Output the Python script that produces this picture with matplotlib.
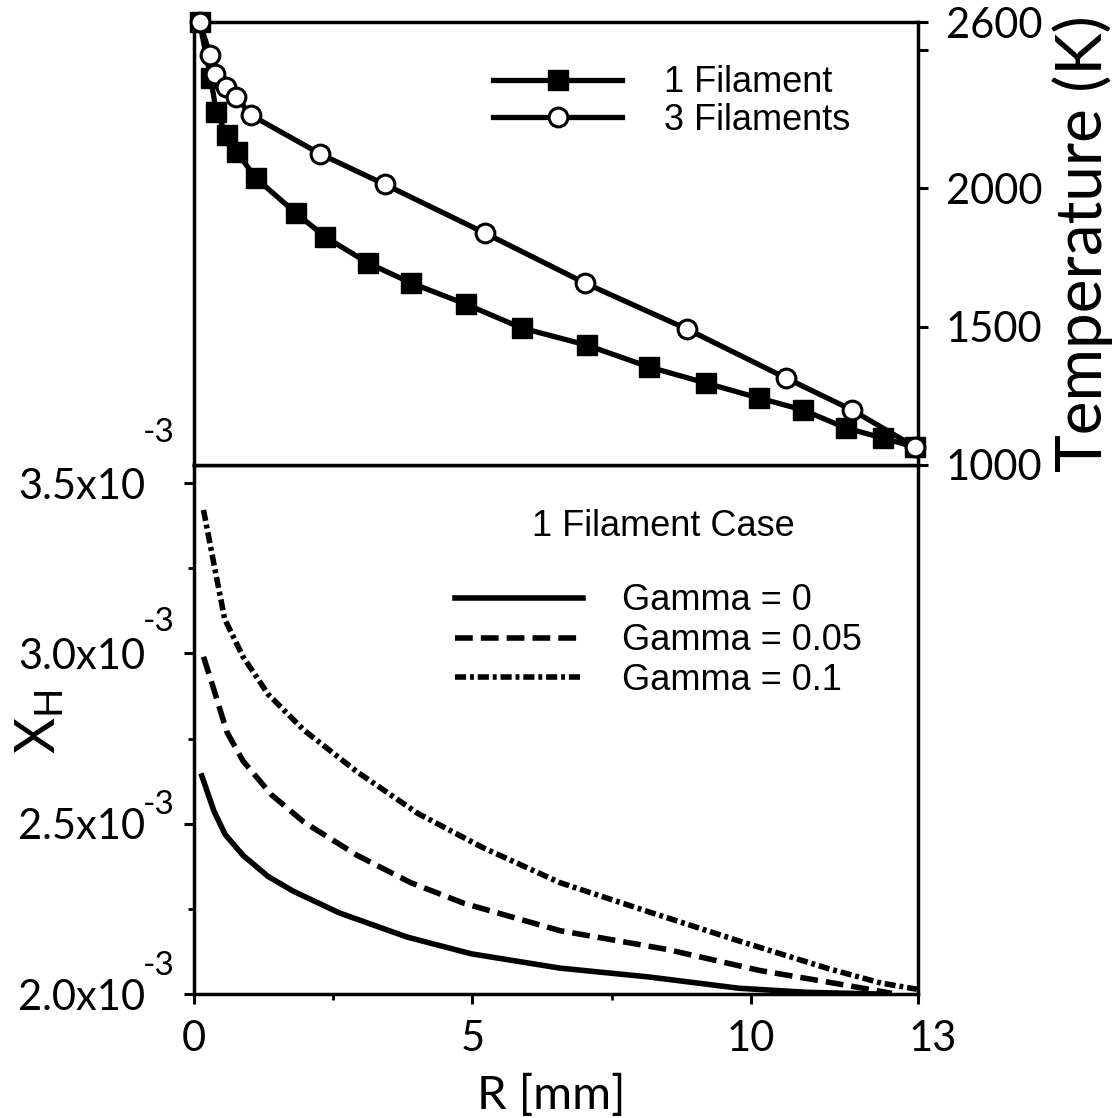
import matplotlib

matplotlib.use("Agg")
import matplotlib.pyplot as plt
import matplotlib.transforms as mtransforms
from matplotlib.lines import Line2D

# top panel: temperature profiles
r_one = [0.1, 0.30, 0.40, 0.59, 0.77, 1.11, 1.83, 2.36, 3.13, 3.90, 4.88, 5.88,
         7.05, 8.17, 9.19, 10.14, 10.93, 11.70, 12.37, 12.94]
t_one = [2600, 2397, 2274, 2191, 2130, 2036, 1910, 1823, 1729, 1657, 1581, 1495,
         1433, 1354, 1296, 1242, 1199, 1134, 1097, 1065]
r_three = [0.1, 0.29, 0.38, 0.57, 0.76, 1.02, 2.27, 3.42, 5.22, 7.02, 8.85,
           10.63, 11.81, 12.95]
t_three = [2600, 2480, 2412, 2365, 2329, 2264, 2123, 2014, 1838, 1657, 1491,
           1314, 1199, 1065]

# bottom panel: X_H profiles, 1 filament case
r_g0 = [0.14, 0.36, 0.56, 0.88, 1.33, 1.78, 2.61, 3.83, 4.98, 6.57, 8.17, 9.78, 11.0, 12.3]
x_g0 = [2.640e-3, 2.536e-3, 2.468e-3, 2.407e-3, 2.345e-3, 2.302e-3, 2.238e-3,
        2.167e-3, 2.118e-3, 2.076e-3, 2.050e-3, 2.017e-3, 2.005e-3, 2.000e-3]
r_g005 = [0.17, 0.36, 0.59, 0.88, 1.39, 1.97, 2.93, 3.89, 4.85, 6.57, 8.49,
          10.16, 11.70, 12.53]
x_g005 = [2.990e-3, 2.892e-3, 2.769e-3, 2.684e-3, 2.585e-3, 2.505e-3, 2.407e-3,
          2.327e-3, 2.266e-3, 2.186e-3, 2.131e-3, 2.069e-3, 2.026e-3, 2.002e-3]
r_g01 = [0.17, 0.36, 0.55, 0.88, 1.33, 1.97, 2.93, 4.02, 5.17, 6.57, 8.17,
         9.78, 11.38, 12.34, 12.98]
x_g01 = [3.421e-3, 3.260e-3, 3.101e-3, 2.990e-3, 2.880e-3, 2.775e-3, 2.652e-3,
         2.530e-3, 2.431e-3, 2.327e-3, 2.241e-3, 2.156e-3, 2.075e-3, 2.032e-3,
         2.014e-3]

y_ticks = [2.0e-3, 2.5e-3, 3.0e-3, 3.5e-3]
y_ticklabels = ["2.0x10", "2.5x10", "3.0x10", "3.5x10"]
x_ticks = [0, 5, 10, 13]
t_ticks = [1000, 1500, 2000, 2500, 2600]
t_ticklabels = ["1000", "1500", "2000", "", "2600"]

GOTHIC = "Lato"
HELV = "Liberation Sans"
DASHED = (3.2, 1.45)
DASHDOT = (2.0, 0.7, 0.7, 0.7)

fig = plt.figure(figsize=(11.19, 11.18), dpi=100)
ax_b = fig.add_axes([0.1734, 0.1109, 0.647, 0.4732])
ax_t = fig.add_axes([0.1734, 0.5841, 0.647, 0.3962])

for ax in (ax_b, ax_t):
    for sp in ax.spines.values():
        sp.set_linewidth(2.5)

# ---- top panel
ax_t.plot(r_one, t_one, color="k", lw=3.8, marker="s", ms=14.5, mfc="k",
          mec="k", clip_on=False, zorder=3)
ax_t.plot(r_three, t_three, color="k", lw=3.8, marker="o", ms=13.5, mfc="w",
          mec="k", mew=2.2, clip_on=False, zorder=4)
ax_t.set_xlim(0, 13)
ax_t.set_ylim(1000, 2600)
ax_t.set_xticks([])
ax_t.yaxis.tick_right()
ax_t.set_yticks(t_ticks)
ax_t.set_yticklabels(t_ticklabels, fontfamily=GOTHIC)
ax_t.tick_params(axis="y", length=7, width=2.2, labelsize=30, pad=13)
ax_t.yaxis.set_label_position("right")
ax_t.set_ylabel("Temperature (K)", fontfamily=GOTHIC, fontsize=46)
ax_t.yaxis.label.set_verticalalignment("center")
ax_t.yaxis.label.set_horizontalalignment("center")
ax_t.yaxis.set_label_coords(1.228, 0.5)

handles = [
    Line2D([], [], color="k", lw=3.8, marker="s", ms=14.5, mfc="k", mec="k"),
    Line2D([], [], color="k", lw=3.8, marker="o", ms=13.5, mfc="w", mec="k", mew=2.2),
]
ax_t.legend(handles, ["1 Filament", "3 Filaments"], loc="upper left",
            bbox_to_anchor=(0.413, 0.902), frameon=False,
            prop={"family": HELV, "size": 26}, handlelength=3.57,
            handletextpad=1.16, labelspacing=0.07, borderpad=0,
            borderaxespad=0)

# ---- bottom panel
ax_b.plot(r_g0, x_g0, color="k", lw=4, ls="-")
ax_b.plot(r_g005, x_g005, color="k", lw=4, dashes=DASHED)
ax_b.plot(r_g01, x_g01, color="k", lw=4, dashes=DASHDOT)
ax_b.set_xlim(0, 13)
ax_b.set_ylim(2.0e-3, 3.553e-3)
ax_b.set_xticks(x_ticks)
ax_b.set_xticklabels([str(v) for v in x_ticks], fontfamily=GOTHIC)
ax_b.set_xticks([2.5, 7.5], minor=True)
ax_b.set_yticks(y_ticks)
ax_b.set_yticklabels(y_ticklabels, fontfamily=GOTHIC)
ax_b.set_yticks([2.25e-3, 2.75e-3, 3.25e-3], minor=True)
ax_b.tick_params(axis="both", which="major", length=7, width=2.2, labelsize=30)
ax_b.tick_params(axis="both", which="minor", length=4, width=2.0)
ax_b.tick_params(axis="y", which="major", pad=28)
ax_b.tick_params(axis="x", which="major", pad=12)

# shift the "13" label a bit to the right as in the original
lbl13 = ax_b.get_xticklabels()[-1]
lbl13.set_transform(lbl13.get_transform()
                    + mtransforms.ScaledTranslation(0.15, 0, fig.dpi_scale_trans))

# exponents of the y tick labels
raise_px = [28, 19, 31, 50]
for v, dy in zip(y_ticks, raise_px):
    ax_b.annotate("-3", xy=(0, v), xycoords=ax_b.get_yaxis_transform(),
                  xytext=(-37, dy * 0.72), textcoords="offset points",
                  ha="left", va="center", fontsize=24, fontfamily=GOTHIC,
                  annotation_clip=False)

ax_b.set_xlabel("R [mm]", fontfamily=GOTHIC, fontsize=34, va="center")
ax_b.xaxis.set_label_coords(0.494, -0.191)
ax_b.set_ylabel(r"$\mathregular{X_H}$", fontfamily=GOTHIC, fontsize=40,
                va="center")
ax_b.yaxis.set_label_coords(-0.213, 0.514)

ax_b.text(0.648, 0.883, "1 Filament Case", transform=ax_b.transAxes,
          ha="center", va="center", fontsize=26, fontfamily=HELV)
handles_b = [
    Line2D([], [], color="k", lw=4, ls="-"),
    Line2D([], [], color="k", lw=4, dashes=DASHED),
    Line2D([], [], color="k", lw=4, dashes=DASHDOT),
]
ax_b.legend(handles_b, ["Gamma = 0", "Gamma = 0.05", "Gamma = 0.1"],
            loc="upper left", bbox_to_anchor=(0.3605, 0.776), frameon=False,
            prop={"family": HELV, "size": 26}, handlelength=3.55,
            handletextpad=1.08, labelspacing=0.13, borderpad=0,
            borderaxespad=0)

fig.savefig("out.png", dpi=100)
